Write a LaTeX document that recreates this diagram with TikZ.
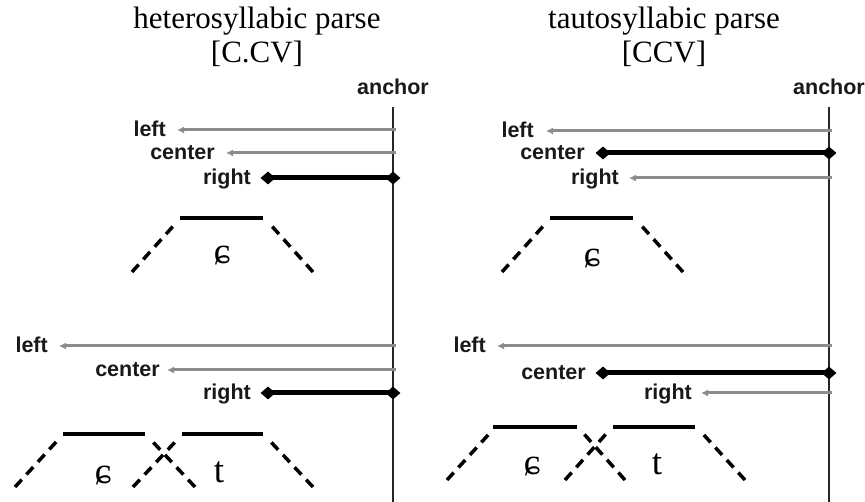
\documentclass[tikz,border=0pt]{standalone}
\usepackage{fontspec}
\setmainfont{Liberation Serif}
\newfontfamily\labfont{Liberation Sans}
\usetikzlibrary{shapes.geometric,arrows.meta}
\begin{document}
\begin{tikzpicture}[x=1pt,y=-1pt,
 title/.style={font=\fontsize{31}{34}\selectfont, anchor=base, inner sep=0},
 lab/.style={font=\labfont\bfseries\fontsize{21.5}{24}\selectfont, anchor=base east, inner sep=0, text=black!90},
 anchtxt/.style={font=\labfont\bfseries\fontsize{21.5}{24}\selectfont, anchor=base, inner sep=0, text=black!90},
 anch/.style={line width=2.6pt, black!85},
 weak/.style={line width=3pt, black!45, -{Latex[length=7pt,width=7pt]}},
 strong/.style={line width=5pt, black},
 dia/.style={diamond, fill=black, inner sep=0, minimum width=15pt, minimum height=13pt},
 bar/.style={line width=3.5pt},
 leg/.style={line width=3.5pt, dash pattern=on 10pt off 7pt},
 seg/.style={font=\fontsize{37}{40}\selectfont, inner sep=0}
]
\useasboundingbox (0,0) rectangle (865,502);

% titles
\node[title] (t1) at (257,29) {heterosyllabic parse};
\node[title] (t2) at (257,63) {[C.CV]};
\node[title] (t3) at (664,29) {tautosyllabic parse};
\node[title] (t4) at (664,63) {[CCV]};

% anchors
\node[anchtxt] (an1) at (393,95) {anchor};
\node[anchtxt] (an2) at (829,95) {anchor};
\coordinate (A1top) at (393,107); \coordinate (A1bot) at (393,502);
\coordinate (A2top) at (829,107); \coordinate (A2bot) at (829,502);
\draw[anch] (A1top) -- (A1bot);
\draw[anch] (A2top) -- (A2bot);

% ---------- left top ----------
\coordinate (a11) at (396,130); \coordinate (s11) at (177,130);
\node[lab] (l11) at (166,137) {left};
\draw[weak] (a11) -- (s11);
\coordinate (a12) at (396,153); \coordinate (s12) at (226,153);
\node[lab] (l12) at (215,160) {center};
\draw[weak] (a12) -- (s12);
\coordinate (a13) at (393,178); \coordinate (s13) at (268,178);
\node[lab] (l13) at (251,185) {right};
\draw[strong] (a13) -- (s13);
\node[dia] (d13a) at (a13) {}; \node[dia] (d13b) at (s13) {};

% ---------- left bottom ----------
\coordinate (a21) at (396,346); \coordinate (s21) at (59,346);
\node[lab] (l21) at (48,353) {left};
\draw[weak] (a21) -- (s21);
\coordinate (a22) at (396,370); \coordinate (s22) at (167,370);
\node[lab] (l22) at (160,377) {center};
\draw[weak] (a22) -- (s22);
\coordinate (a23) at (393,393); \coordinate (s23) at (268,393);
\node[lab] (l23) at (251,400) {right};
\draw[strong] (a23) -- (s23);
\node[dia] (d23a) at (a23) {}; \node[dia] (d23b) at (s23) {};

% ---------- right top ----------
\coordinate (a31) at (832,131); \coordinate (s31) at (546,131);
\node[lab] (l31) at (534,138) {left};
\draw[weak] (a31) -- (s31);
\coordinate (a32) at (829,153); \coordinate (s32) at (603,153);
\node[lab] (l32) at (585,160) {center};
\draw[strong] (a32) -- (s32);
\node[dia] (d32a) at (a32) {}; \node[dia] (d32b) at (s32) {};
\coordinate (a33) at (832,178); \coordinate (s33) at (629,178);
\node[lab] (l33) at (619,185) {right};
\draw[weak] (a33) -- (s33);

% ---------- right bottom ----------
\coordinate (a41) at (832,346); \coordinate (s41) at (497,346);
\node[lab] (l41) at (486,353) {left};
\draw[weak] (a41) -- (s41);
\coordinate (a42) at (829,373); \coordinate (s42) at (603,373);
\node[lab] (l42) at (586,380) {center};
\draw[strong] (a42) -- (s42);
\node[dia] (d42a) at (a42) {}; \node[dia] (d42b) at (s42) {};
\coordinate (a43) at (832,393); \coordinate (s43) at (701,393);
\node[lab] (l43) at (692,400) {right};
\draw[weak] (a43) -- (s43);

% ---------- syllables ----------
% left top
\draw[bar] (180,218) -- (263,218);
\draw[leg] (132,272) -- (176,223);
\draw[leg] (313,272) -- (269,223);
\node[seg] (c1) at (222,256) {ɕ};
% right top
\draw[bar] (550,218) -- (633,218);
\draw[leg] (502,272) -- (546,223);
\draw[leg] (683,272) -- (639,223);
\node[seg] (c2) at (592,259) {ɕ};
% left bottom
\draw[bar] (63,434) -- (145,434);
\draw[bar] (182,434) -- (263,434);
\draw[leg] (15,487) -- (57,441);
\draw[leg] (133,487) -- (176,441);
\draw[leg] (195,487) -- (152,441);
\draw[leg] (313,487) -- (270,441);
\node[seg] (c3) at (103,476) {ɕ};
\node[seg] (c4) at (219,472) {t};
% right bottom
\draw[bar] (493,427) -- (577,427);
\draw[bar] (613,427) -- (695,427);
\draw[leg] (447,480) -- (489,434);
\draw[leg] (565,480) -- (606,434);
\draw[leg] (625,480) -- (584,434);
\draw[leg] (745,480) -- (703,434);
\node[seg] (c5) at (532,467) {ɕ};
\node[seg] (c6) at (657,464) {t};
\end{tikzpicture}
\end{document}
